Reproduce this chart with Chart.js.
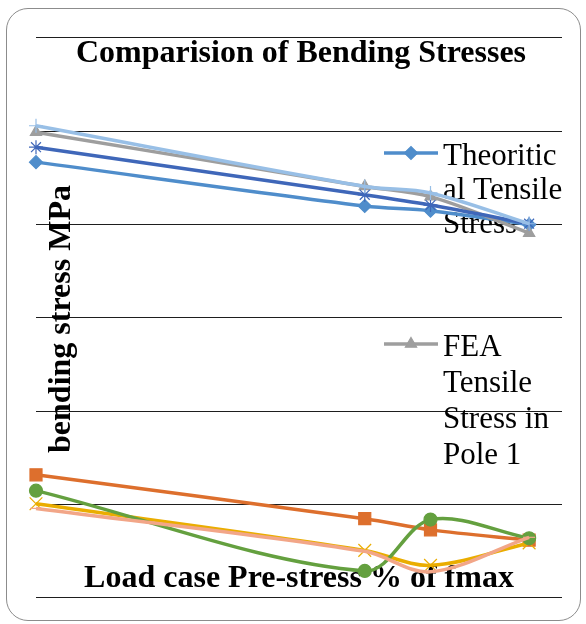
<!DOCTYPE html>
<html>
<head>
<meta charset="utf-8">
<title>Comparision of Bending Stresses</title>
<script src="https://cdn.jsdelivr.net/npm/chart.js@4/dist/chart.umd.min.js"></script>
<style>
  html, body { margin: 0; padding: 0; background: #fff; }
  #wrap { position: relative; width: 586px; height: 624px; }
  #chart { position: absolute; left: 0; top: 0; }
  #frame {
    position: absolute; left: 6px; top: 8px; width: 573px; height: 611px;
    border: 1px solid #8c8c8c; border-radius: 22px; pointer-events: none;
  }
</style>
</head>
<body>
<div id="wrap">
  <canvas id="chart" width="586" height="624"></canvas>
  <div id="frame"></div>
</div>
<script>
// Load case (pre-stress, % of fmax)
const loadCase = [0, 50, 60, 75];

// Bending stresses, MPa
const theoTensile = [46.7, 42.0, 41.5, 40.0];
const theoCompressive = [13.2, 8.5, 7.3, 6.2];
const feaTensilePole1 = [49.9, 44.1, 43.0, 39.1];
const feaCompressivePole1 = [10.1, 5.1, 3.5, 5.9];
const feaTensilePole2 = [48.3, 43.2, 42.1, 40.1];
const feaCompressivePole2 = [11.5, 2.9, 8.4, 6.4];
const feaTensilePole3 = [50.6, 44.1, 43.4, 40.1];
const feaCompressivePole3 = [9.6, 5.0, 2.8, 6.5];

const yTicks = [0, 10, 20, 30, 40, 50, 60];

const chartTitle = 'Comparision of Bending Stresses';
const xTitle = 'Load case Pre-stress % of fmax';
const yTitle = 'bending stress MPa';

const SERIF = '"Liberation Serif", "Times New Roman", serif';

function series(label, values, color, pointStyle, radius) {
    return {
        label: label,
        data: values.map((v, i) => ({ x: loadCase[i], y: v })),
        borderColor: color,
        backgroundColor: color,
        borderWidth: 3.5,
        pointStyle: pointStyle,
        pointRadius: radius,
        pointBackgroundColor: color,
        pointBorderColor: color,
        pointBorderWidth: 1.2,
        tension: 0.33,
        clip: false
    };
}

const datasets = [
    series('Theoritical Tensile Stress', theoTensile, '#4F8DCB', 'rectRot', 6.5),
    series('Theoritical Compressive Stress', theoCompressive, '#DD6F2D', 'rect', 8.5),
    series('FEA Tensile Stress in Pole 1', feaTensilePole1, '#9E9E9E', 'triangle', 6.5),
    series('FEA Compressive Stress in Pole 1', feaCompressivePole1, '#EAAD00', 'crossRot', 9),
    series('FEA Tensile Stress in Pole 2', feaTensilePole2, '#3F67B9', 'star', 7),
    series('FEA Compressive Stress in Pole 2', feaCompressivePole2, '#64A03F', 'circle', 6.5),
    series('FEA Tensile Stress in Pole 3', feaTensilePole3, '#98BFE6', 'cross', 7),
    series('FEA Compressive Stress in Pole 3', feaCompressivePole3, '#F2A688', 'line', 6)
];
// later series paint over earlier ones
datasets.forEach((d, i) => { d.order = datasets.length - i; });

// only these entries fit in the legend box
const legendShown = [0, 2];

// break a label into lines no wider than maxWidth, splitting words if needed
function wrapLabel(ctx, text, maxWidth) {
    const lines = [];
    let line = '';
    text.split(' ').forEach(word => {
        let candidate = line ? line + ' ' + word : word;
        if (ctx.measureText(candidate).width <= maxWidth) {
            line = candidate;
            return;
        }
        if (line) lines.push(line);
        line = '';
        for (const ch of word) {
            if (line && ctx.measureText(line + ch).width > maxWidth) {
                lines.push(line);
                line = ch;
            } else {
                line += ch;
            }
        }
    });
    if (line) lines.push(line);
    return lines;
}

const chartText = {
    id: 'chartText',
    beforeDatasetsDraw(chart) {
        const ctx = chart.ctx;
        ctx.save();
        ctx.fillStyle = '#000';
        ctx.textBaseline = 'alphabetic';

        // titles
        ctx.font = 'bold 32px ' + SERIF;
        ctx.textAlign = 'center';
        ctx.fillText(chartTitle, 301, 62);
        ctx.fillText(xTitle, 299, 587);
        ctx.save();
        ctx.translate(70, 319);
        ctx.rotate(-Math.PI / 2);
        ctx.fillText(yTitle, 0, 0);
        ctx.restore();

        // legend
        ctx.font = '31px ' + SERIF;
        ctx.textAlign = 'left';
        const tops = [165, 356];
        const lineGaps = [34, 36];
        legendShown.forEach((idx, n) => {
            const ds = chart.data.datasets[idx];
            const base = tops[n];
            const ly = n === 0 ? 153 : 344;
            ctx.strokeStyle = ds.borderColor;
            ctx.fillStyle = ds.borderColor;
            ctx.lineWidth = ds.borderWidth;
            ctx.beginPath();
            ctx.moveTo(384, ly);
            ctx.lineTo(438, ly);
            ctx.stroke();
            ctx.lineWidth = ds.pointBorderWidth;
            Chart.helpers.drawPoint(ctx, {
                pointStyle: ds.pointStyle,
                radius: ds.pointRadius,
                rotation: 0,
                borderWidth: ds.pointBorderWidth
            }, 411, ly);
            ctx.fillStyle = '#000';
            wrapLabel(ctx, ds.label, 124).forEach((t, k) => {
                ctx.fillText(t, 443, base + k * lineGaps[n]);
            });
        });
        ctx.restore();
    }
};

new Chart(document.getElementById('chart'), {
    type: 'line',
    data: { datasets: datasets },
    options: {
        responsive: false,
        devicePixelRatio: 1,
        animation: false,
        layout: { padding: { left: 36, top: 38, right: 24, bottom: 26 } },
        plugins: {
            legend: { display: false },
            title: { display: false },
            tooltip: { enabled: false }
        },
        scales: {
            x: { type: 'linear', min: 0, max: 80, display: false },
            y: {
                min: 0,
                max: 60,
                afterBuildTicks: axis => { axis.ticks = yTicks.map(v => ({ value: v })); },
                ticks: { display: false },
                border: { display: false },
                grid: { color: '#1e1e1e', lineWidth: 1.1, drawTicks: false }
            }
        }
    },
    plugins: [chartText]
});
</script>
</body>
</html>
